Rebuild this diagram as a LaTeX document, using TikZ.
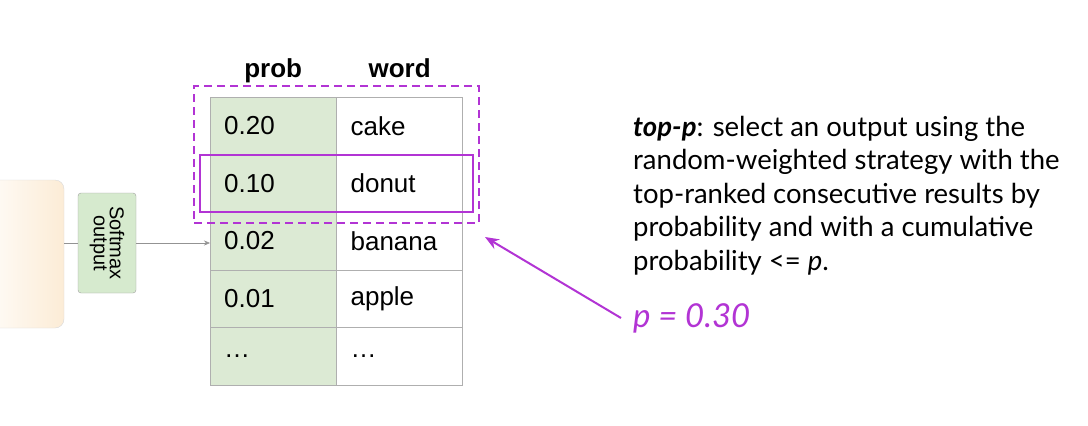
\documentclass[tikz,border=0pt]{standalone}
\usepackage{fontspec}
\usepackage{graphicx}
\setmainfont{Liberation Sans}
\newfontfamily\latofont{Lato}
\usetikzlibrary{arrows.meta,positioning,fit}

\definecolor{topppurple}{RGB}{178,52,212}
\definecolor{probgreen}{RGB}{220,234,212}
\definecolor{softgreen}{RGB}{214,234,206}
\definecolor{modelbeige}{RGB}{252,236,214}
\definecolor{gridgray}{RGB}{175,175,175}

\tikzset{
    probcell/.style={draw=gridgray, fill=probgreen, anchor=north west,
        minimum width=126pt, minimum height=57.5pt, inner xsep=14pt, inner ysep=0pt,
        text width=98pt, align=left, font=\fontsize{26}{30}\selectfont},
    wordcell/.style={probcell, fill=white},
    headtxt/.style={font=\fontsize{26}{30}\selectfont\bfseries, text height=18pt, text depth=6pt},
    softbox/.style={draw=gray!75, fill=softgreen, rounded corners=3pt,
        minimum width=58pt, minimum height=100pt, inner sep=0pt,
        font=\fontsize{20}{22}\selectfont},
    modelbox/.style={draw=gray!30, rounded corners=9pt, left color=white, right color=modelbeige,
        minimum width=94pt, minimum height=148pt},
    pickbox/.style={draw=topppurple, line width=2pt, inner ysep=0pt},
    nucleus/.style={draw=topppurple, line width=2pt, dash pattern=on 8pt off 5pt}
}

\begin{document}
\begin{tikzpicture}[x=1pt, y=-1pt]
    \useasboundingbox (0,0) rectangle (1088,426);

    % model and softmax
    \node[modelbox] (model) at (17,254) {};
    \node[softbox] (soft) at (107,243) {\rotatebox{-90}{\shortstack{Softmax\\output}}};

    % table
    \foreach \p/\w [count=\i] in {0.20/cake, 0.10/donut, 0.02/banana, 0.01/apple, \dots/\dots}{
        \node[probcell] (p\i) at (210,{97+57.5*(\i-1)}) {\p};
        \node[wordcell, right=0pt of p\i] (w\i) {\w};
    }
    \node[headtxt, above=10pt of p1] (hprob) {prob};
    \node[headtxt, above=10pt of w1] (hword) {word};

    \draw[gray!85] (model.east |- soft.west) -- (soft.west);
    \draw[gray!85, -{Stealth[length=6pt,width=5pt]}] (soft.east) -- (soft.east -| p3.west);

    % top-p selection
    \node[pickbox, fit=(p2)(w2), inner xsep=10pt] (pick) {};
    \node[nucleus, fit=(p1)(w2), inner xsep=16pt, inner ysep=11pt] (topset) {};

    % explanation
    \node[anchor=north west, align=left, inner sep=0pt,
        font=\latofont\fontsize{27.5}{33.5}\selectfont] (expl) at (633,116)
        {\textbf{\textit{top-p}}: select an output using the\\
         random-weighted strategy with the\\
         top-ranked consecutive results by\\
         probability and with a cumulative\\
         probability <= \textit{p}.};
    \node[anchor=west, inner sep=0pt, text=topppurple,
        font=\latofont\itshape\fontsize{33}{38}\selectfont] (pval) at (633,318) {p = 0.30};
    \coordinate (tip) at (485,237);
    \draw[topppurple, line width=2pt, -{Stealth[length=14pt,width=11pt]}]
        ([xshift=-12pt]pval.west) -- (tip);
\end{tikzpicture}
\end{document}
